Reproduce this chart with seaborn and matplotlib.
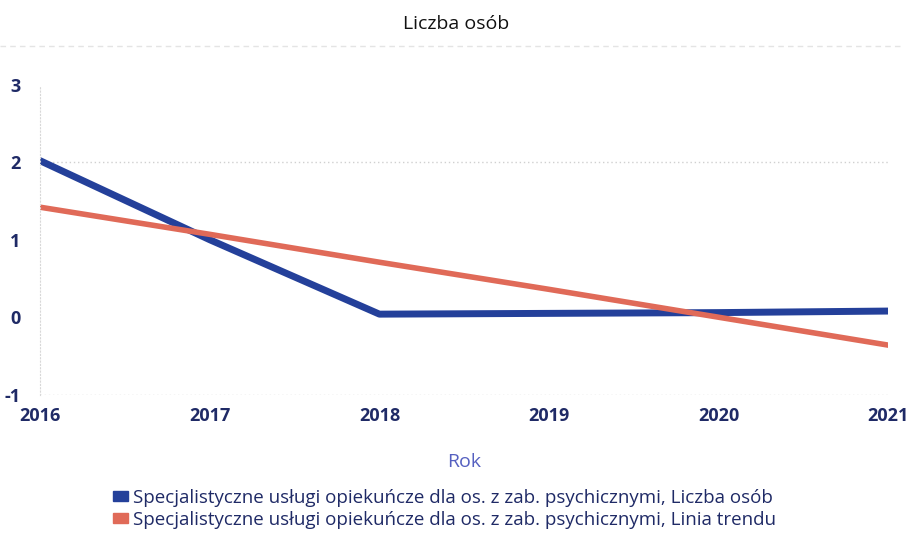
import matplotlib
matplotlib.use("Agg")
import matplotlib.pyplot as plt
from matplotlib.patches import Patch
import pandas as pd
import seaborn as sns

# data
years = [2016, 2017, 2018, 2019, 2020, 2021]
liczba_osob = [2.02, 1.0, 0.04, 0.05, 0.06, 0.08]
linia_trendu = [1.42, 1.07, 0.71, 0.36, 0.0, -0.36]
series_names = ["Specjalistyczne usługi opiekuńcze dla os. z zab. psychicznymi, Liczba osób",
                "Specjalistyczne usługi opiekuńcze dla os. z zab. psychicznymi, Linia trendu"]
y_ticks = [-1, 0, 1, 2, 3]


def main():
    sns.set_style("white")
    plt.rcParams["font.family"] = ["Open Sans", "DejaVu Sans"]

    data = pd.DataFrame({
        "Rok": years * 2,
        "value": liczba_osob + linia_trendu,
        "series": [series_names[0]] * len(years) + [series_names[1]] * len(years),
    })

    colors = {series_names[0]: "#24409a", series_names[1]: "#e06a58"}
    navy = "#1f2a66"

    fig = plt.figure(figsize=(9.13, 5.4), dpi=100)
    ax = fig.add_axes([0.044, 0.269, 0.929, 0.574])

    sns.lineplot(data=data[data["series"] == series_names[0]], x="Rok", y="value",
                 color=colors[series_names[0]], linewidth=5, ax=ax, legend=False)
    sns.lineplot(data=data[data["series"] == series_names[1]], x="Rok", y="value",
                 color=colors[series_names[1]], linewidth=4, ax=ax, legend=False)

    ax.set_xlim(2016, 2021)
    ax.set_ylim(-1, 3)
    ax.set_xticks(years)
    ax.set_yticks(y_ticks)
    ax.set_xticklabels([str(y) for y in years], fontsize=13, fontweight="bold", color=navy)
    ax.set_yticklabels([str(t) for t in y_ticks], fontsize=13, fontweight="bold", color=navy)
    ax.tick_params(axis="x", length=0, pad=9)
    ax.tick_params(axis="y", length=0, pad=14)

    # faint dotted grid
    for t in [2, -1]:
        ax.axhline(t, color="#d0d0d0", linestyle=(0, (1, 2)), linewidth=1, zorder=0)
    for s in ["top", "right", "bottom"]:
        ax.spines[s].set_visible(False)
    ax.spines["left"].set_color("#d8d8d8")
    ax.spines["left"].set_linestyle((0, (1, 2)))

    ax.set_xlabel("Rok", fontsize=14, color="#5560c0", labelpad=20)
    ax.set_ylabel("")

    fig.text(0.5, 0.955, "Liczba osób", ha="center", va="center", fontsize=14, color="#111111")
    fig.add_artist(plt.Line2D([0.0, 0.99], [0.915, 0.915], color="#e4e4e4",
                              linestyle=(0, (4, 3)), linewidth=1))

    handles = [Patch(color=colors[n]) for n in series_names]
    fig.legend(handles, series_names, loc="center", bbox_to_anchor=(0.487, 0.058),
               ncol=1, frameon=False, fontsize=13.5, handlelength=0.8, handleheight=0.4,
               handletextpad=0.25, labelspacing=0.2, labelcolor=navy)

    fig.savefig("out.png", dpi=100)


if __name__ == "__main__":
    main()
